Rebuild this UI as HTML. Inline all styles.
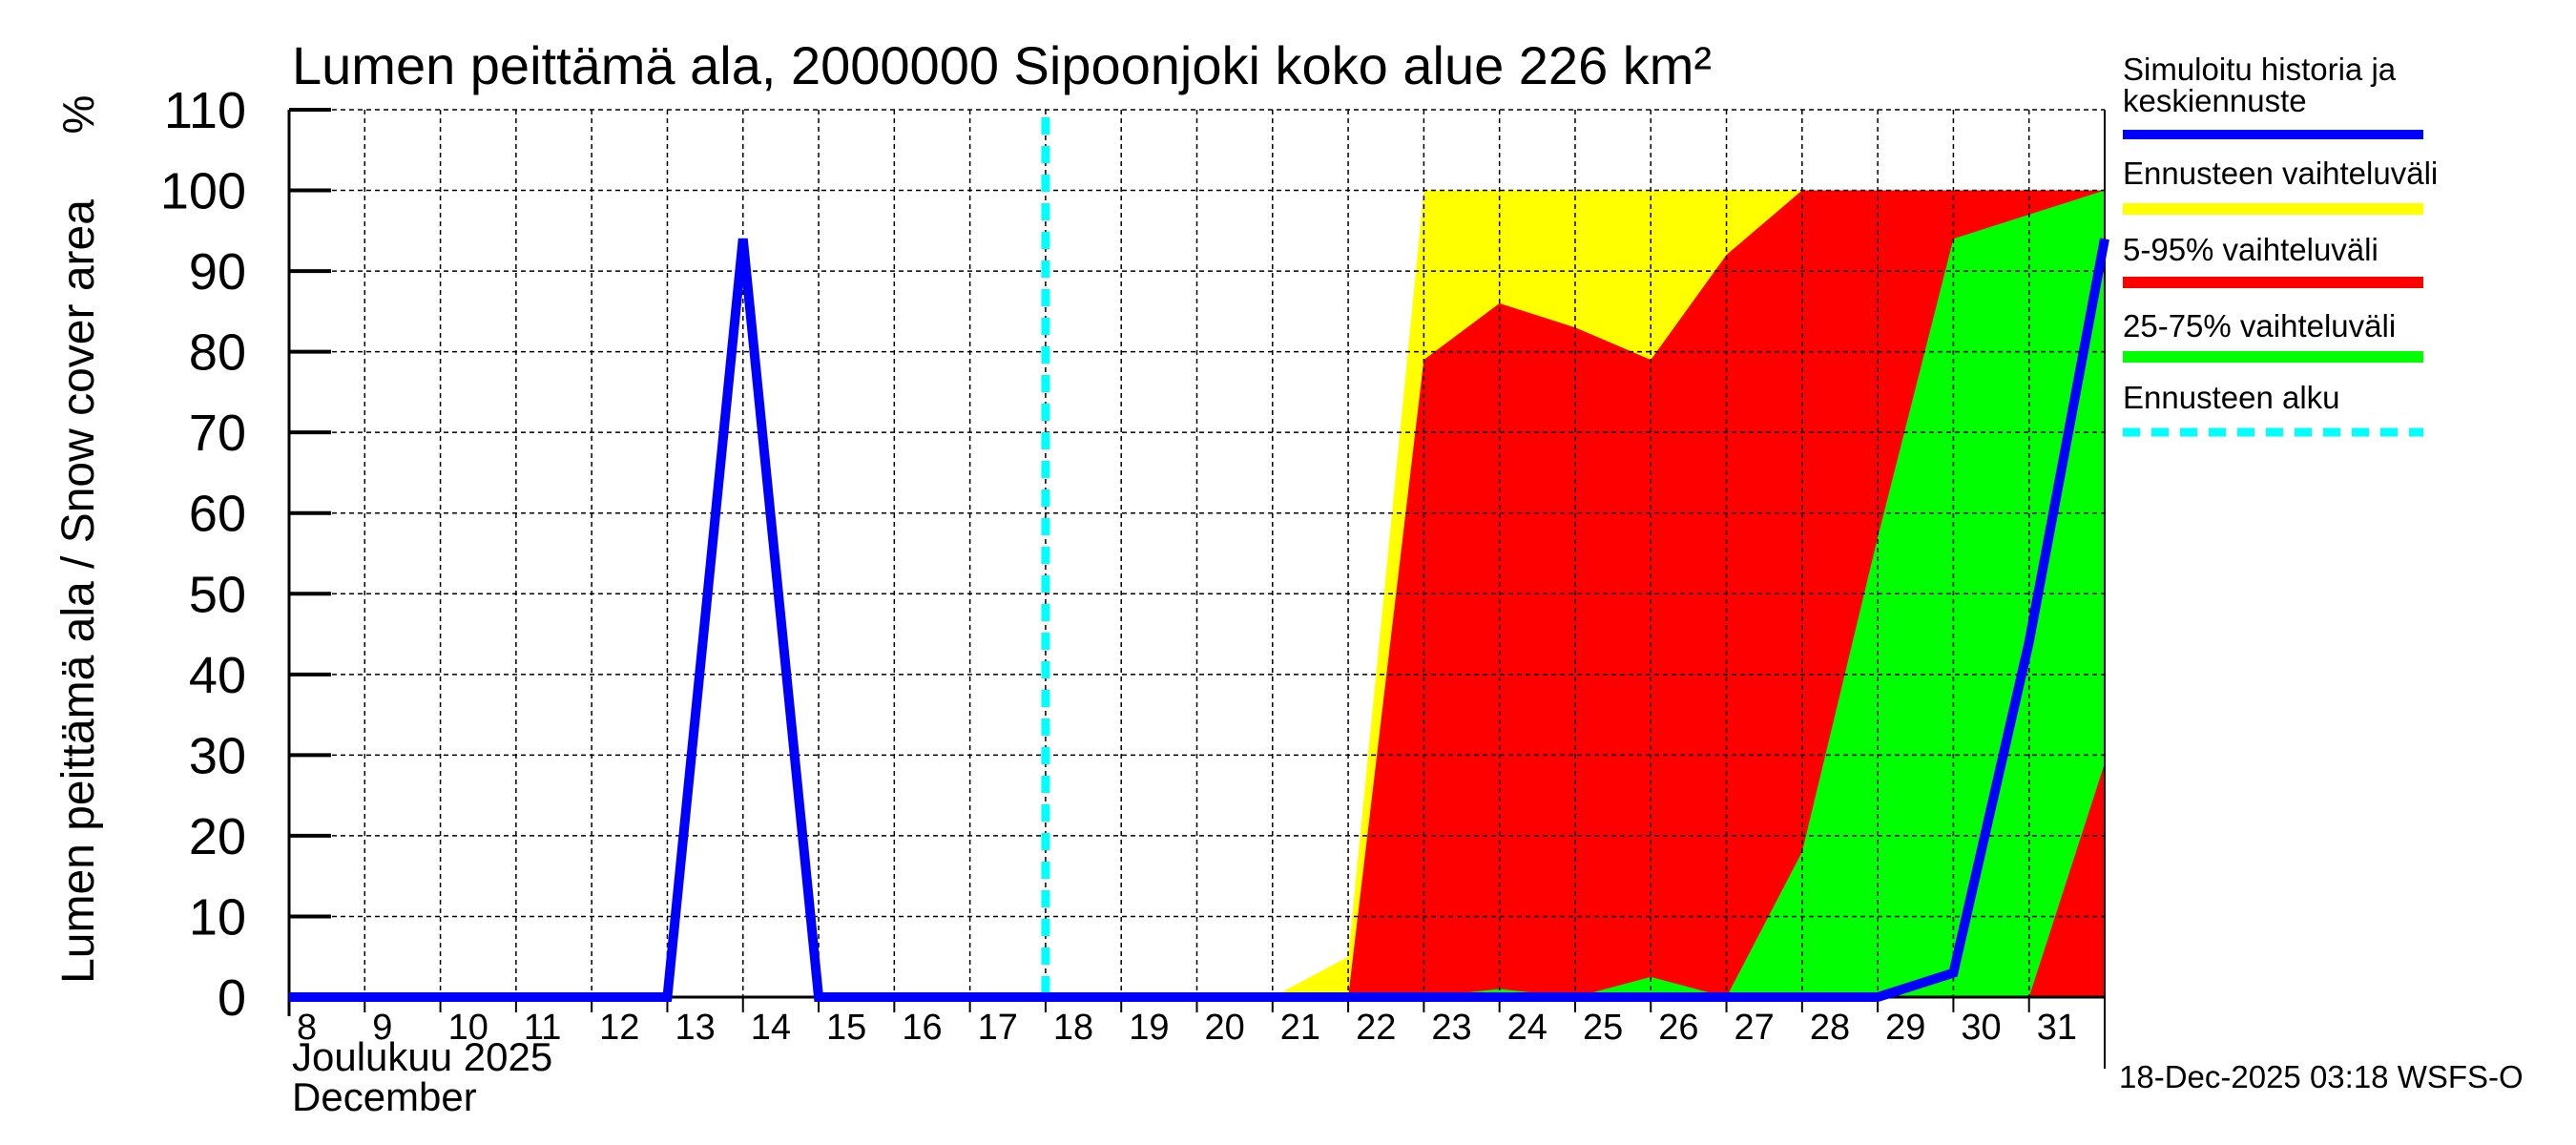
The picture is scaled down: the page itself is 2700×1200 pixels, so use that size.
<!DOCTYPE html>
<html><head><meta charset="utf-8"><style>
html,body{margin:0;padding:0;background:#fff;}
svg{display:block;font-family:"Liberation Sans",sans-serif;}
</style></head><body>
<svg id="chart" width="2700" height="1200" viewBox="0 0 2700 1200" xmlns="http://www.w3.org/2000/svg">
<text x="306" y="88" font-size="56">Lumen peittämä ala, 2000000 Sipoonjoki koko alue 226 km²</text>
<text transform="translate(98,620) rotate(-90)" text-anchor="middle" font-size="48">Lumen peittämä ala / Snow cover area</text>
<text transform="translate(98,120) rotate(-90)" text-anchor="middle" font-size="46">%</text>
<g id="plot"></g>
<g id="legend">
<text x="2225" y="84" font-size="33">Simuloitu historia ja</text>
<text x="2225" y="117" font-size="33">keskiennuste</text>
<rect x="2225" y="136" width="315" height="10" fill="#0000ff"/>
<text x="2225" y="193" font-size="33">Ennusteen vaihteluväli</text>
<rect x="2225" y="213" width="315" height="12" fill="#ffff00"/>
<text x="2225" y="273" font-size="33">5-95% vaihteluväli</text>
<rect x="2225" y="290" width="315" height="12" fill="#ff0000"/>
<text x="2225" y="353" font-size="33">25-75% vaihteluväli</text>
<rect x="2225" y="368" width="315" height="12" fill="#00ff00"/>
<text x="2225" y="428" font-size="33">Ennusteen alku</text>
<line x1="2225" y1="453" x2="2540" y2="453" stroke="#00ffff" stroke-width="9" stroke-dasharray="18,12"/>
</g>
<text x="306" y="1122" font-size="42">Joulukuu  2025</text>
<text x="306" y="1164" font-size="42">December</text>
<text x="2221" y="1140" font-size="33">18-Dec-2025 03:18 WSFS-O</text>
</svg>
<script>
// x = day index offset from Dec 8 (0 = Dec 8, 24 = Jan 1)
const dayLabels = ["8","9","10","11","12","13","14","15","16","17","18","19","20","21","22","23","24","25","26","27","28","29","30","31"];
const yTicks = [0,10,20,30,40,50,60,70,80,90,100,110];
const histDays = [0,1,2,3,4,5,6,7,8,9,10,11,12,13,14,15,16,17,18,19,20,21,22,23,24];
const histValues = [0,0,0,0,0,0,94,0,0,0,0,0,0,0,0,0,0,0,0,0,0,0,3,44,94];
const bandDays = [13,14,15,16,17,18,19,20,21,22,23,24];
const rangeHigh = [0,5,100,100,100,100,100,100,100,100,100,100];
const rangeLow = [0,0,0,0,0,0,0,0,0,0,0,0];
const p95 = [0,0,79,86,83,79,92,100,100,100,100,100];
const p5 = [0,0,0,0,0,0,0,0,0,0,0,0];
const p75 = [0,0,0,1,0,2.5,0,18,57,94,97,100];
const p25 = [0,0,0,0,0,0,0,0,0,0,0,29];
const forecastStart = 10;

const L=303,R=2206,T=115,B=1045,NDAYS=24;
const xs=d=>L+(R-L)*d/NDAYS;
const ys=v=>B-(B-T)*v/110;
const NS="http://www.w3.org/2000/svg";
const plot=document.getElementById('plot');
function mk(tag,attrs){const e=document.createElementNS(NS,tag);for(const k in attrs)e.setAttribute(k,attrs[k]);plot.appendChild(e);return e;}

function band(hi,lo,color){
  let pts=bandDays.map((d,i)=>xs(d)+","+ys(hi[i]));
  for(let i=bandDays.length-1;i>=0;i--)pts.push(xs(bandDays[i])+","+ys(lo[i]));
  const p=mk('polygon',{points:pts.join(" "),fill:color});
  
  return p;
}
let b1=band(rangeHigh,rangeLow,"#ffff00");

let b2=band(p95,p5,"#ff0000");

let b3=band(p75,p25,"#00ff00");


yTicks.forEach(v=>{
  if(v>0){const g=mk('line',{x1:L,x2:R,y1:ys(v),y2:ys(v),stroke:"#000","stroke-width":1.5,"stroke-dasharray":"5,4"});
  
  }
  const t=mk('line',{x1:L,x2:L+44,y1:ys(v),y2:ys(v),stroke:"#000","stroke-width":4});
  
  
  const lb=mk('text',{x:258,y:ys(v)+19,"text-anchor":"end","font-size":54});
  lb.textContent=v;
  
  
});
for(let d=1;d<NDAYS;d++){
  const g=mk('line',{x1:xs(d),x2:xs(d),y1:T,y2:B,stroke:"#000","stroke-width":1.5,"stroke-dasharray":"5,4"});
  
  
}
for(let d=0;d<=NDAYS;d++){
  const t=mk('line',{x1:xs(d),x2:xs(d),y1:B,y2:B+16,stroke:"#000","stroke-width":2});
  
  
}
dayLabels.forEach((s,i)=>{
  const t=mk('text',{x:xs(i)+8,y:B+44,"font-size":38});
  t.textContent=s;
  
  
});
let a=mk('line',{x1:L,x2:L,y1:T,y2:B+20,stroke:"#000","stroke-width":3});


a=mk('line',{x1:L,x2:R,y1:B,y2:B,stroke:"#000","stroke-width":3});


a=mk('line',{x1:R,x2:R,y1:T,y2:B+75,stroke:"#000","stroke-width":2});


const fs=mk('line',{x1:xs(forecastStart),x2:xs(forecastStart),y1:T+8,y2:B,stroke:"#00ffff","stroke-width":9,"stroke-dasharray":"18,12"});


const hl=mk('polyline',{points:histDays.map((d,i)=>xs(d)+","+ys(histValues[i])).join(" "),fill:"none",stroke:"#0000ff","stroke-width":10,"stroke-linejoin":"miter"});


</script>
</body></html>
